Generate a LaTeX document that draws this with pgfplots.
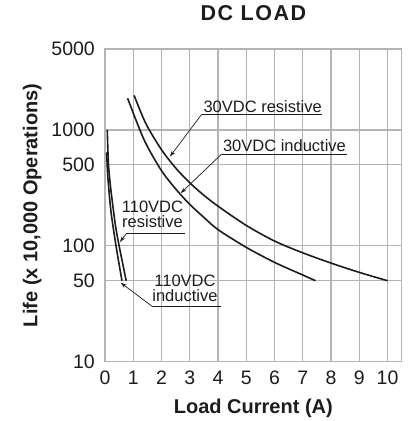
\documentclass[border=0pt]{standalone}
\usepackage{fontspec}
\setmainfont{Liberation Sans}
\usepackage{pgfplots}
\pgfplotsset{compat=1.18}
\usetikzlibrary{arrows.meta}
\definecolor{gridgray}{RGB}{180,180,180}
\definecolor{ink}{RGB}{28,28,28}
\begin{document}
\begin{tikzpicture}
\useasboundingbox (0,0) rectangle (410pt,421pt);
\begin{axis}[
  at={(105pt,59.3pt)}, anchor=south west,
  scale only axis, width=296.7pt, height=312.7pt,
  ymode=log, xmin=0, xmax=10.5, ymin=10, ymax=5000,
  xtick={0,1,2,3,4,5,6,7,8,9,10},
  ytick={10,50,100,500,1000,5000},
  yticklabels={10,50,100,500,1000,5000},
  minor ytick={}, 
  grid=major,
  major grid style={gridgray, line width=1.2pt},
  axis line style={gridgray, line width=1.2pt},
  tick style={draw=none},
  /pgf/number format/assume math mode=true,
  ticklabel style={font=\fontsize{19.5}{21}\selectfont, text=ink, inner sep=0pt},
  xticklabel style={anchor=north, yshift=-9pt},
  yticklabel style={anchor=east, xshift=-10pt},
  title={DC LOAD},
  title style={at={(axis description cs:0.5,1.0713)}, anchor=base, inner sep=0pt,
    font=\fontsize{21.5}{24}\selectfont\bfseries\addfontfeatures{LetterSpace=7}, text=ink},
  xlabel={Load Current (A)},
  xlabel style={at={(axis description cs:0.5,-0.1641)}, anchor=base, inner sep=0pt,
    font=\fontsize{20}{24}\selectfont\bfseries, text=ink},
  ylabel={Life (x 10,000 Operations)},
  ylabel style={at={(axis description cs:-0.2282,0.5)}, anchor=base, inner sep=0pt,
    font=\fontsize{20}{24}\selectfont\bfseries, text=ink},
]
% 30VDC resistive
\addplot[ink, line width=1.6pt, smooth, tension=0.5] coordinates {
  (1.03,1990) (1.25,1460) (1.5,1070) (2.0,675) (2.5,470) (3.0,350) (3.5,273)
  (4.0,220) (5.0,150) (6.0,110) (7.0,87) (8.0,71) (9.0,59) (10.0,50)
};
% 30VDC inductive
\addplot[ink, line width=1.6pt, smooth, tension=0.5] coordinates {
  (0.80,1880) (1.0,1400) (1.25,980) (1.5,720) (2.0,445) (2.5,310) (3.0,228)
  (3.5,176) (4.0,138) (5.0,97) (6.0,72) (7.0,56) (7.45,50)
};
% 110VDC resistive
\addplot[ink, line width=1.6pt, smooth, tension=0.5] coordinates {
  (0.08,1000) (0.12,520) (0.18,350) (0.26,240) (0.37,150) (0.50,100) (0.75,50)
};
% 110VDC inductive
\addplot[ink, line width=1.6pt, smooth, tension=0.5] coordinates {
  (0.06,640) (0.09,430) (0.14,300) (0.22,190) (0.39,100) (0.60,50)
};
% annotations
\tikzset{annot/.style={font=\fontsize{16.5}{14.7}\selectfont, text=ink, inner sep=0pt, align=center}}
\tikzset{ptr/.style={ink, line width=0.7pt, -{Stealth[length=6pt,width=4pt]}}}
% 30VDC resistive
\node[annot, anchor=base west] at (axis cs:3.48,1429) {30VDC resistive};
\draw[ink, line width=0.8pt] (axis cs:7.67,1365) -- (axis cs:3.42,1365);
\draw[ptr] (axis cs:3.42,1365) -- (axis cs:2.30,590);
% 30VDC inductive
\node[annot, anchor=base west] at (axis cs:4.17,649) {30VDC inductive};
\draw[ink, line width=0.8pt] (axis cs:8.55,620) -- (axis cs:4.13,620);
\draw[ptr] (axis cs:4.13,620) -- (axis cs:2.68,285);
% 110VDC resistive
\node[annot, anchor=south] at (axis cs:1.68,142.5) {110VDC\\resistive};
\draw[ink, line width=0.8pt] (axis cs:2.83,129) -- (axis cs:0.77,129);
\draw[ptr] (axis cs:0.77,129) -- (axis cs:0.53,108);
% 110VDC inductive
\node[annot, anchor=south] at (axis cs:2.83,32.9) {110VDC\\inductive};
\draw[ink, line width=0.8pt] (axis cs:4.095,29.8) -- (axis cs:1.688,29.8);
\draw[ptr] (axis cs:1.688,29.8) -- (axis cs:0.556,48);
\end{axis}
\end{tikzpicture}
\end{document}
